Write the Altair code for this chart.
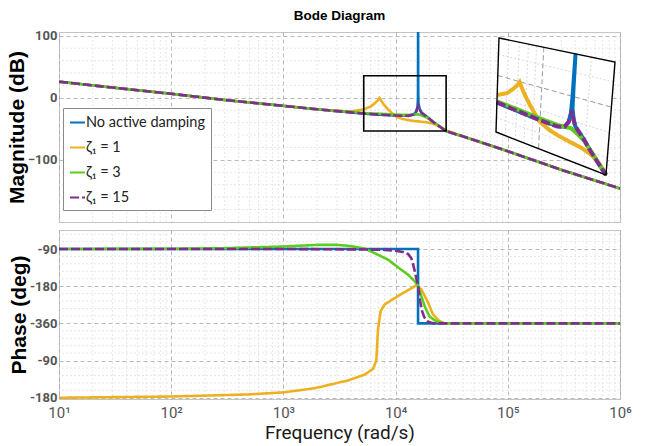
import math
import altair as alt
import pandas as pd

# ---------------- data ----------------
SERIES = ["No active damping", "ζ₁ = 1", "ζ₁ = 3", "ζ₁ = 15"]
COLORS = ["#0072BD", "#EDB120", "#5ccc1f", "#7E2F8E"]
DASHES = [[1, 0], [1, 0], [1, 0], [9, 3]]

# Magnitude (dB) vs frequency (rad/s)
mag_f_none = [10, 30, 100, 300, 1000, 2000, 3000, 4000, 5200, 7000, 10000, 13000, 14500, 15300,
              15700, 15830, 15870, 15910, 16000, 16500, 17000, 19500, 22000, 28200, 50000, 100000,
              300000, 1000000]
mag_none = [26, 16.5, 6.5, -3.5, -13, -18.5, -21.5, -23.5, -25.5, -27, -28.5, -28.5, -27, -22,
            -14, 0, 120, 10, -10, -19.5, -24, -32, -40, -53.5, -68, -86, -116, -146]

mag_f_1 = [10, 30, 100, 300, 1000, 2000, 3000, 4000, 5200, 6000, 6600, 7000, 7200, 7400, 7800,
           8500, 9300, 10000, 11500, 13500, 16000, 19000, 22000, 25000, 28200, 50000, 100000,
           300000, 1000000]
mag_1 = [26, 16.5, 6.5, -3.5, -13, -18.5, -21, -22, -18.5, -14, -8, -3.5, -0.5, -4, -10,
         -18, -25, -30, -34, -36.5, -38, -39.5, -42, -46.5, -52.5, -68, -86, -116, -146]

mag_f_3 = [10, 30, 100, 300, 1000, 2000, 3000, 4000, 5200, 7000, 10000, 13000, 15000, 15900,
           16500, 18000, 20000, 23000, 28200, 50000, 100000, 300000, 1000000]
mag_3 = [26, 16.5, 6.5, -3.5, -13, -18.5, -21, -22.5, -24.5, -25.5, -27, -27.5, -27, -26.5,
         -27.5, -30, -34, -42, -53.5, -68, -86, -116, -146]

mag_f_15 = [10, 30, 100, 300, 1000, 2000, 3000, 4000, 5200, 7000, 10000, 13000, 14500, 15300,
            15700, 15900, 16200, 16500, 17000, 19500, 22000, 28200, 50000, 100000, 300000, 1000000]
mag_15 = [26, 16.5, 6.5, -3.5, -13, -18.5, -21.5, -23.5, -25.5, -27, -28.5, -29, -27, -22,
          -16, -12, -16, -19.5, -24, -32, -40, -53.5, -68, -86, -116, -146]

# Phase (deg) vs frequency (rad/s)
ph_f_none = [10, 15850, 15850, 1000000]
ph_none = [-90, -90, -270, -270]

ph_f_1 = [10, 100, 484, 1000, 1900, 3770, 5300, 6300, 6730, 6970, 7360, 8000, 10500, 14800,
          15300, 17000, 19500, 21500, 24500, 27200, 1000000]
ph_1 = [-450, -447, -442, -437, -427, -408, -394, -380, -360, -284, -240, -224, -204, -180,
        -178, -188, -220, -248, -264, -270, -270]

ph_f_3 = [10, 100, 300, 1000, 2000, 3000, 4000, 5300, 6500, 8600, 10700, 12900, 14800, 15900,
          17000, 18200, 20000, 23000, 27000, 1000000]
ph_3 = [-90, -89.5, -88, -84, -80, -80, -83, -89, -100, -116, -136, -152, -168, -180, -205,
        -229, -253, -265, -270, -270]

ph_f_15 = [10, 1000, 5000, 8000, 10000, 11500, 12900, 13800, 14300, 15000, 15500, 15900, 16500,
           17200, 18000, 19500, 22000, 1000000]
ph_15 = [-90, -90, -91, -92, -94, -97, -102, -112, -126, -150, -168, -180, -214, -240, -255,
         -266, -270, -270]

# axes ticks / labels
x_decades = [10, 100, 1000, 10000, 100000, 1000000]
x_decade_labels = ["10¹", "10²", "10³", "10⁴", "10⁵", "10⁶"]
x_minor = [k * 10 ** e for e in range(1, 6) for k in range(2, 10)]
mag_ticks = [-100, 0, 100]
mag_minor = [-180, -160, -140, -120, -80, -60, -40, -20, 20, 40, 60, 80]
phase_tick_values = [-90, -180, -270, -360, -450]
phase_tick_labels = ["-90", "-180", "-360", "-90", "-180"]
phase_minor = [-72, -54, -108, -126, -144, -162, -198, -216, -234, -252, -288, -306, -324,
               -342, -378, -396, -414, -432]

# zoom box (in data units) and what the inset shows
BOX_F = [5200, 28200]
BOX_MAG = [35.6, -53.5]
inset_hgrid_major = [0]
inset_hgrid_minor = [20, -20, -40]
inset_vgrid_major = [10000]
inset_vgrid_minor = [6000, 7000, 8000, 9000, 20000]

# ---------------- layout / style constants ----------------
W = 561
H_MAG = 190
H_PH = 169
MAG_DOMAIN = [-200, 106]
PH_DOMAIN = [-453, -44]
NARROW = "Liberation Sans Narrow, Roboto, Liberation Sans, sans-serif"
SANS = "Liberation Sans, Arial, sans-serif"
GRID = dict(grid=True, gridDash=[4, 3], gridColor="#a8a8a8", gridWidth=0.8)
# inset frame (normalised inset canvas) corners
INSET_XR = [437, 556]
INSET_YR = [6, 143]
TL = (0.025, 0.0)
TR = (1.0, 0.175)
BR = (0.924, 1.0)
BL = (0.0, 0.686)


def frame(freqs, vals, name, key):
    return pd.DataFrame({"f": freqs, key: vals, "series": name, "idx": list(range(len(freqs)))})


mag_df = pd.concat([
    frame(mag_f_none, mag_none, SERIES[0], "mag"),
    frame(mag_f_1, mag_1, SERIES[1], "mag"),
    frame(mag_f_3, mag_3, SERIES[2], "mag"),
    frame(mag_f_15, mag_15, SERIES[3], "mag"),
], ignore_index=True)

ph_df = pd.concat([
    frame(ph_f_none, ph_none, SERIES[0], "phase"),
    frame(ph_f_1, ph_1, SERIES[1], "phase"),
    frame(ph_f_3, ph_3, SERIES[2], "phase"),
    frame(ph_f_15, ph_15, SERIES[3], "phase"),
], ignore_index=True)

color_scale = alt.Scale(domain=SERIES, range=COLORS)
dash_scale = alt.Scale(domain=SERIES, range=DASHES)

legend = alt.Legend(
    title=None, orient="none", legendX=4, legendY=76,
    fillColor="white", strokeColor="#8a8a8a", padding=6, cornerRadius=0,
    symbolType="stroke", symbolSize=225, symbolStrokeWidth=2,
    labelFont="Lato, Liberation Sans, sans-serif", labelFontSize=14.5, labelColor="#222",
    labelOffset=0, rowPadding=10, labelLimit=200,
)

xscale = alt.Scale(type="log", domain=[10, 1e6], nice=False)

# ---------------- magnitude panel ----------------
minor_x_df = pd.DataFrame({"f": x_minor})
mag_minor_df = pd.DataFrame({"mag": mag_minor})

minor_rule_style = dict(color="#dcdcdc", strokeWidth=0.7, strokeDash=[2, 2])

mag_minor_x = alt.Chart(minor_x_df).mark_rule(**minor_rule_style).encode(
    x=alt.X("f:Q", scale=xscale))
mag_minor_y = alt.Chart(mag_minor_df).mark_rule(**minor_rule_style).encode(
    y=alt.Y("mag:Q", scale=alt.Scale(domain=MAG_DOMAIN, nice=False)))

mag_lines = alt.Chart(mag_df).mark_line(strokeWidth=2.6, clip=True).encode(
    x=alt.X("f:Q", scale=xscale,
            axis=alt.Axis(values=x_decades, labels=False, ticks=False, domain=False, title=None, **GRID)),
    y=alt.Y("mag:Q", scale=alt.Scale(domain=MAG_DOMAIN, nice=False),
            axis=alt.Axis(values=mag_ticks, title="Magnitude (dB)", titleFont=SANS, titleFontSize=21,
                          titleFontWeight="bold", titleColor="black", titlePadding=0,
                          labelFont=NARROW, labelFontSize=13, labelFontWeight="bold", labelColor="#555",
                          ticks=False, domain=False, labelPadding=2, **GRID)),
    color=alt.Color("series:N", scale=color_scale, legend=legend),
    strokeDash=alt.StrokeDash("series:N", scale=dash_scale, legend=legend),
    order=alt.Order("idx:Q"),
)

box_df = pd.DataFrame({"f1": [BOX_F[0]], "f2": [BOX_F[1]], "m1": [BOX_MAG[0]], "m2": [BOX_MAG[1]]})
box = alt.Chart(box_df).mark_rect(fillOpacity=0, stroke="black", strokeWidth=1.6).encode(
    x=alt.X("f1:Q", scale=xscale), x2="f2:Q",
    y=alt.Y("m1:Q", scale=alt.Scale(domain=MAG_DOMAIN, nice=False)), y2="m2:Q")

main_mag = alt.layer(mag_minor_x, mag_minor_y, mag_lines, box)

# ---------------- inset (zoomed view of the box, drawn in perspective) ----------------
L0 = math.log10(BOX_F[0])
L1 = math.log10(BOX_F[1])
expr_u = f"(log(datum.f)/LN10 - {L0})/({L1 - L0})"
expr_v = f"({BOX_MAG[0]} - clamp(datum.mag, {BOX_MAG[1]}, {BOX_MAG[0]}))/({BOX_MAG[0] - BOX_MAG[1]})"
expr_X = (f"(1-datum.u)*(1-datum.v)*{TL[0]} + datum.u*(1-datum.v)*{TR[0]} + "
          f"datum.u*datum.v*{BR[0]} + (1-datum.u)*datum.v*{BL[0]}")
expr_Y = (f"(1-datum.u)*(1-datum.v)*{TL[1]} + datum.u*(1-datum.v)*{TR[1]} + "
          f"datum.u*datum.v*{BR[1]} + (1-datum.u)*datum.v*{BL[1]}")

IX = alt.X("X:Q", scale=alt.Scale(domain=[0, 1], range=INSET_XR, nice=False, zero=False), axis=None)
IY = alt.Y("Y:Q", scale=alt.Scale(domain=[0, 1], range=INSET_YR, nice=False, zero=False), axis=None)


def inset_tf(ch):
    return (ch.transform_filter(f"datum.f >= {BOX_F[0] * 0.999} && datum.f <= {BOX_F[1] * 1.001}")
              .transform_calculate(u=expr_u, v=expr_v)
              .transform_calculate(X=expr_X, Y=expr_Y))


frame_df = pd.DataFrame({"f": [BOX_F[0], BOX_F[1], BOX_F[1], BOX_F[0]],
                         "mag": [BOX_MAG[0], BOX_MAG[0], BOX_MAG[1], BOX_MAG[1]],
                         "idx": [0, 1, 2, 3]})
inset_bg = inset_tf(alt.Chart(frame_df).mark_line(
    interpolate="linear-closed", filled=True, fill="white", stroke="white", strokeWidth=0.5)).encode(
    x=IX, y=IY, order=alt.Order("idx:Q"))
inset_border = inset_tf(alt.Chart(frame_df).mark_line(
    interpolate="linear-closed", stroke="black", strokeWidth=1.4)).encode(
    x=IX, y=IY, order=alt.Order("idx:Q"))

grid_rows = []
gid = 0
for m in inset_hgrid_major + inset_hgrid_minor:
    kind = "major" if m in inset_hgrid_major else "minor"
    grid_rows += [{"gid": gid, "kind": kind, "f": BOX_F[0], "mag": m, "idx": 0},
                  {"gid": gid, "kind": kind, "f": BOX_F[1], "mag": m, "idx": 1}]
    gid += 1
for fv in inset_vgrid_major + inset_vgrid_minor:
    kind = "major" if fv in inset_vgrid_major else "minor"
    grid_rows += [{"gid": gid, "kind": kind, "f": fv, "mag": BOX_MAG[0], "idx": 0},
                  {"gid": gid, "kind": kind, "f": fv, "mag": BOX_MAG[1], "idx": 1}]
    gid += 1
grid_df = pd.DataFrame(grid_rows)

inset_grid_major = inset_tf(alt.Chart(grid_df).mark_line(
    stroke="#8c8c8c", strokeWidth=0.9, strokeDash=[5, 3])).transform_filter(
    "datum.kind == 'major'").encode(x=IX, y=IY, detail="gid:N", order=alt.Order("idx:Q"))
inset_grid_minor = inset_tf(alt.Chart(grid_df).mark_line(
    stroke="#cfcfcf", strokeWidth=0.8, strokeDash=[2, 2])).transform_filter(
    "datum.kind == 'minor'").encode(x=IX, y=IY, detail="gid:N", order=alt.Order("idx:Q"))

inset_lines = inset_tf(alt.Chart(mag_df).mark_line(strokeWidth=4)).encode(
    x=IX, y=IY,
    color=alt.Color("series:N", scale=color_scale, legend=None),
    strokeDash=alt.StrokeDash("series:N", scale=dash_scale, legend=None),
    order=alt.Order("idx:Q"),
)

inset = alt.layer(inset_bg, inset_grid_minor, inset_grid_major, inset_lines, inset_border)

mag_chart = alt.layer(main_mag, inset).resolve_scale(x="independent", y="independent").properties(
    width=W, height=H_MAG,
    title=alt.TitleParams("Bode Diagram", frame="group", anchor="middle", font=SANS,
                          fontSize=13.5, fontWeight="bold", color="black", offset=7),
)

# ---------------- phase panel ----------------
ph_minor_df = pd.DataFrame({"phase": phase_minor})
ph_minor_x = alt.Chart(minor_x_df).mark_rule(**minor_rule_style).encode(
    x=alt.X("f:Q", scale=xscale))
ph_minor_y = alt.Chart(ph_minor_df).mark_rule(**minor_rule_style).encode(
    y=alt.Y("phase:Q", scale=alt.Scale(domain=PH_DOMAIN, nice=False)))

x_label_expr = " : ".join(
    f"datum.value == {v} ? '{lab}'" for v, lab in zip(x_decades, x_decade_labels)) + " : ''"
ph_label_expr = " : ".join(
    f"datum.value == {v} ? '{lab}'" for v, lab in zip(phase_tick_values, phase_tick_labels)) + " : datum.label"

ph_lines = alt.Chart(ph_df).mark_line(strokeWidth=2.6, clip=True).encode(
    x=alt.X("f:Q", scale=xscale,
            axis=alt.Axis(values=x_decades, labelExpr=x_label_expr, title="Frequency  (rad/s)",
                          titleFont=NARROW, titleFontSize=19, titleFontWeight="normal", titleColor="#1a1a1a",
                          titlePadding=3, labelFont=NARROW, labelFontSize=15, labelColor="#555",
                          labelPadding=6, ticks=False, domain=False, labelFlush=False, **GRID)),
    y=alt.Y("phase:Q", scale=alt.Scale(domain=PH_DOMAIN, nice=False),
            axis=alt.Axis(values=phase_tick_values, labelExpr=ph_label_expr, title="Phase (deg)",
                          titleFont=SANS, titleFontSize=21, titleFontWeight="bold", titleColor="black",
                          titlePadding=0, labelFont=NARROW, labelFontSize=13, labelFontWeight="bold",
                          labelColor="#555", ticks=False, domain=False, labelPadding=2, **GRID)),
    color=alt.Color("series:N", scale=color_scale, legend=None),
    strokeDash=alt.StrokeDash("series:N", scale=dash_scale, legend=None),
    order=alt.Order("idx:Q"),
)

ph_chart = alt.layer(ph_minor_x, ph_minor_y, ph_lines).properties(width=W, height=H_PH)

chart = alt.vconcat(mag_chart, ph_chart, spacing=6).resolve_scale(
    color="shared", strokeDash="shared").properties(
    padding={"left": 5, "top": 8, "right": 3, "bottom": 0},
    background="white",
).configure_view(stroke="#c4c4c4", strokeWidth=1)

chart.save("out.html", embed_options={"renderer": "svg", "actions": False})
